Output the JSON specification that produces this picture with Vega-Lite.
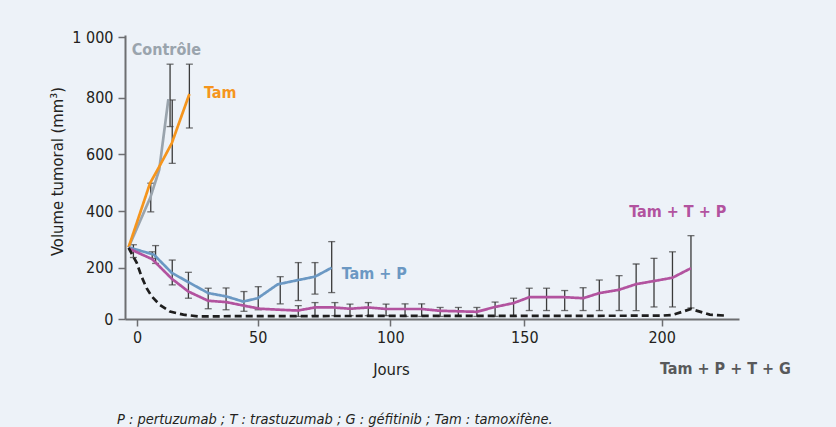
{
  "$schema": "https://vega.github.io/schema/vega-lite/v6.json",
  "width": 614,
  "height": 284,
  "autosize": "none",
  "padding": {"left": 125, "top": 35, "right": 97, "bottom": 108},
  "background": "#edf2f8",
  "config": {
    "view": {"stroke": null},
    "font": "Liberation Sans Narrow, DejaVu Sans Condensed, sans-serif",
    "axis": {
      "grid": false,
      "domainColor": "#6d6e71",
      "domainWidth": 2,
      "tickColor": "#6d6e71",
      "tickWidth": 1.5,
      "tickSize": 7,
      "labelFontSize": 16,
      "labelColor": "#231f20",
      "titleFontSize": 16.5,
      "titleFontWeight": "normal",
      "titleColor": "#231f20",
      "labelFlush": false
    }
  },
  "title": {
    "text": "P : pertuzumab ; T : trastuzumab ; G : géfitinib ; Tam : tamoxifène.",
    "orient": "bottom",
    "anchor": "start",
    "frame": "group",
    "dx": -8,
    "offset": 35,
    "fontSize": 14.5,
    "fontStyle": "italic",
    "fontWeight": "normal",
    "color": "#231f20"
  },
  "datasets": {
    "courbes": [
      {"serie": "Contrôle", "jour": -3.5, "volume": 272},
      {"serie": "Contrôle", "jour": 5.5, "volume": 447},
      {"serie": "Contrôle", "jour": 9.2, "volume": 545},
      {"serie": "Contrôle", "jour": 13, "volume": 795},
      {"serie": "Tam", "jour": -3.5, "volume": 272},
      {"serie": "Tam", "jour": 5.4, "volume": 498},
      {"serie": "Tam", "jour": 9.2, "volume": 556},
      {"serie": "Tam", "jour": 14.4, "volume": 639},
      {"serie": "Tam", "jour": 21.7, "volume": 812},
      {"serie": "Tam + P", "jour": -3.5, "volume": 272},
      {"serie": "Tam + P", "jour": 7, "volume": 246},
      {"serie": "Tam + P", "jour": 14.4, "volume": 180},
      {"serie": "Tam + P", "jour": 22, "volume": 140},
      {"serie": "Tam + P", "jour": 29.5, "volume": 101},
      {"serie": "Tam + P", "jour": 37, "volume": 88},
      {"serie": "Tam + P", "jour": 44, "volume": 68},
      {"serie": "Tam + P", "jour": 50, "volume": 81},
      {"serie": "Tam + P", "jour": 57.5, "volume": 135},
      {"serie": "Tam + P", "jour": 65.3, "volume": 152},
      {"serie": "Tam + P", "jour": 71.6, "volume": 165},
      {"serie": "Tam + P", "jour": 77.9, "volume": 200},
      {"serie": "Tam + T + P", "jour": -3.5, "volume": 268},
      {"serie": "Tam + T + P", "jour": 6.3, "volume": 230},
      {"serie": "Tam + T + P", "jour": 14.4, "volume": 157},
      {"serie": "Tam + T + P", "jour": 21.3, "volume": 107},
      {"serie": "Tam + T + P", "jour": 29.5, "volume": 71},
      {"serie": "Tam + T + P", "jour": 36.9, "volume": 66},
      {"serie": "Tam + T + P", "jour": 44.3, "volume": 52},
      {"serie": "Tam + T + P", "jour": 50.9, "volume": 40},
      {"serie": "Tam + T + P", "jour": 58.5, "volume": 36},
      {"serie": "Tam + T + P", "jour": 65.1, "volume": 33},
      {"serie": "Tam + T + P", "jour": 71.6, "volume": 45},
      {"serie": "Tam + T + P", "jour": 78.5, "volume": 45},
      {"serie": "Tam + T + P", "jour": 84.8, "volume": 40},
      {"serie": "Tam + T + P", "jour": 91.7, "volume": 45},
      {"serie": "Tam + T + P", "jour": 98.6, "volume": 39},
      {"serie": "Tam + T + P", "jour": 105.5, "volume": 39},
      {"serie": "Tam + T + P", "jour": 111.7, "volume": 39},
      {"serie": "Tam + T + P", "jour": 118.6, "volume": 32},
      {"serie": "Tam + T + P", "jour": 125.4, "volume": 30},
      {"serie": "Tam + T + P", "jour": 132.3, "volume": 28},
      {"serie": "Tam + T + P", "jour": 139.1, "volume": 47},
      {"serie": "Tam + T + P", "jour": 146, "volume": 62},
      {"serie": "Tam + T + P", "jour": 151.8, "volume": 85},
      {"serie": "Tam + T + P", "jour": 158.1, "volume": 85},
      {"serie": "Tam + T + P", "jour": 164.7, "volume": 85},
      {"serie": "Tam + T + P", "jour": 171.4, "volume": 81},
      {"serie": "Tam + T + P", "jour": 177.3, "volume": 101},
      {"serie": "Tam + T + P", "jour": 184.5, "volume": 114},
      {"serie": "Tam + T + P", "jour": 190.7, "volume": 136},
      {"serie": "Tam + T + P", "jour": 197.2, "volume": 148},
      {"serie": "Tam + T + P", "jour": 203.9, "volume": 161},
      {"serie": "Tam + T + P", "jour": 210.6, "volume": 198},
      {"serie": "Tam + P + T + G", "jour": -3.5, "volume": 270},
      {"serie": "Tam + P + T + G", "jour": -0.1, "volume": 217},
      {"serie": "Tam + P + T + G", "jour": 1.9, "volume": 165},
      {"serie": "Tam + P + T + G", "jour": 4, "volume": 120},
      {"serie": "Tam + P + T + G", "jour": 6.1, "volume": 88},
      {"serie": "Tam + P + T + G", "jour": 9.5, "volume": 55},
      {"serie": "Tam + P + T + G", "jour": 13.7, "volume": 29},
      {"serie": "Tam + P + T + G", "jour": 19.2, "volume": 17},
      {"serie": "Tam + P + T + G", "jour": 25.4, "volume": 10},
      {"serie": "Tam + P + T + G", "jour": 40, "volume": 11},
      {"serie": "Tam + P + T + G", "jour": 100, "volume": 12},
      {"serie": "Tam + P + T + G", "jour": 150, "volume": 12},
      {"serie": "Tam + P + T + G", "jour": 200, "volume": 13},
      {"serie": "Tam + P + T + G", "jour": 204, "volume": 16},
      {"serie": "Tam + P + T + G", "jour": 210.6, "volume": 39},
      {"serie": "Tam + P + T + G", "jour": 217.4, "volume": 17},
      {"serie": "Tam + P + T + G", "jour": 223.5, "volume": 13}
    ],
    "barres": [
      {"jour": -1.5, "lo": 236, "hi": 281},
      {"jour": 5.7, "lo": 397, "hi": 498},
      {"jour": 13.7, "lo": 698, "hi": 911},
      {"jour": 14.6, "lo": 568, "hi": 792},
      {"jour": 21.7, "lo": 693, "hi": 911},
      {"jour": 6.3, "lo": 233, "hi": 256},
      {"jour": 7.7, "lo": 215, "hi": 278},
      {"jour": 14.6, "lo": 133, "hi": 227},
      {"jour": 21.3, "lo": 81, "hi": 182},
      {"jour": 29.5, "lo": 40, "hi": 120},
      {"jour": 36.9, "lo": 36, "hi": 121},
      {"jour": 44.3, "lo": 30, "hi": 107},
      {"jour": 50.2, "lo": 36, "hi": 126},
      {"jour": 58.5, "lo": 59, "hi": 165},
      {"jour": 65.3, "lo": 72, "hi": 218},
      {"jour": 71.6, "lo": 97, "hi": 218},
      {"jour": 77.9, "lo": 103, "hi": 292},
      {"jour": 65.3, "lo": 10, "hi": 52},
      {"jour": 71.6, "lo": 13, "hi": 64},
      {"jour": 79.1, "lo": 13, "hi": 64},
      {"jour": 84.8, "lo": 13, "hi": 58},
      {"jour": 91.7, "lo": 13, "hi": 64},
      {"jour": 98.4, "lo": 13, "hi": 58},
      {"jour": 105.5, "lo": 10, "hi": 59},
      {"jour": 111.7, "lo": 10, "hi": 59},
      {"jour": 118.6, "lo": 10, "hi": 45},
      {"jour": 125.4, "lo": 10, "hi": 45},
      {"jour": 132.3, "lo": 10, "hi": 45},
      {"jour": 139.1, "lo": 10, "hi": 66},
      {"jour": 146, "lo": 10, "hi": 81},
      {"jour": 151.8, "lo": 33, "hi": 120},
      {"jour": 158.1, "lo": 33, "hi": 120},
      {"jour": 164.7, "lo": 33, "hi": 111},
      {"jour": 171.4, "lo": 33, "hi": 122},
      {"jour": 177.3, "lo": 33, "hi": 152},
      {"jour": 184.5, "lo": 33, "hi": 169},
      {"jour": 190.7, "lo": 33, "hi": 213},
      {"jour": 197.2, "lo": 47, "hi": 233},
      {"jour": 203.9, "lo": 47, "hi": 256},
      {"jour": 210.6, "lo": 43, "hi": 313}
    ],
    "etiquettes": [
      {"serie": "Contrôle", "label": "Contrôle", "jour": -2.2, "volume": 941},
      {"serie": "Tam", "label": "Tam", "jour": 27.8, "volume": 798},
      {"serie": "Tam + P", "label": "Tam + P", "jour": 81.7, "volume": 155},
      {"serie": "Tam + T + P", "label": "Tam + T + P", "jour": 188.2, "volume": 380},
      {"serie": "Tam + P + T + G", "label": "Tam + P + T + G", "jour": 199.4, "volume": -214}
    ]
  },
  "layer": [
    {
      "data": {"name": "barres"},
      "mark": {"type": "errorbar", "color": "#3a3a3a", "ticks": {"size": 7, "thickness": 1.3}, "rule": {"strokeWidth": 1.3}},
      "encoding": {
        "x": {"field": "jour", "type": "quantitative",
              "scale": {"domain": [-5, 0, 50, 100, 150, 200, 228], "range": [0, 12, 132.7, 265.3, 399.3, 536.7, 614], "zero": false, "nice": false},
              "axis": {"values": [0, 50, 100, 150, 200], "title": "Jours", "labelPadding": 3, "titleX": 266, "titleY": 50, "titleBaseline": "middle", "titleAlign": "center"}},
        "y": {"field": "lo", "type": "quantitative",
              "scale": {"domain": [0, 200, 400, 600, 800, 1000, 1007], "range": [284, 232.7, 176, 119.3, 62.7, 2.3, 0], "zero": false, "nice": false},
              "axis": {"values": [0, 200, 400, 600, 800, 1000], "title": "Volume tumoral (mm³)", "labelPadding": 5, "labelExpr": "replace(datum.label, ',', ' ')", "titleX": -68, "titleY": 136, "titleBaseline": "middle", "titleAlign": "center", "titleAngle": -90}},
        "y2": {"field": "hi"}
      }
    },
    {
      "data": {"name": "courbes"},
      "mark": {"type": "line", "strokeWidth": 2.7},
      "encoding": {
        "x": {"field": "jour", "type": "quantitative",
              "scale": {"domain": [-5, 0, 50, 100, 150, 200, 228], "range": [0, 12, 132.7, 265.3, 399.3, 536.7, 614], "zero": false, "nice": false}},
        "y": {"field": "volume", "type": "quantitative",
              "scale": {"domain": [0, 200, 400, 600, 800, 1000, 1007], "range": [284, 232.7, 176, 119.3, 62.7, 2.3, 0], "zero": false, "nice": false}},
        "color": {"field": "serie", "type": "nominal", "legend": null,
                  "scale": {"domain": ["Contrôle", "Tam", "Tam + P", "Tam + T + P", "Tam + P + T + G"], "range": ["#9aa4ad", "#f5951d", "#6b98c3", "#b2539f", "#1e1e1e"]}},
        "strokeDash": {"field": "serie", "type": "nominal", "legend": null,
                  "scale": {"domain": ["Contrôle", "Tam", "Tam + P", "Tam + T + P", "Tam + P + T + G"], "range": [[1, 0], [1, 0], [1, 0], [1, 0], [7, 4]]}}
      }
    },
    {
      "data": {"name": "etiquettes"},
      "transform": [{"filter": "datum.serie !== 'Tam + P + T + G'"}],
      "mark": {"type": "text", "align": "left", "baseline": "alphabetic", "fontSize": 16, "fontWeight": "bold"},
      "encoding": {
        "x": {"field": "jour", "type": "quantitative",
              "scale": {"domain": [-5, 0, 50, 100, 150, 200, 228], "range": [0, 12, 132.7, 265.3, 399.3, 536.7, 614], "zero": false, "nice": false}},
        "y": {"field": "volume", "type": "quantitative",
              "scale": {"domain": [0, 200, 400, 600, 800, 1000, 1007], "range": [284, 232.7, 176, 119.3, 62.7, 2.3, 0], "zero": false, "nice": false}},
        "text": {"field": "label"},
        "color": {"field": "serie", "type": "nominal", "legend": null}
      }
    },
    {
      "data": {"name": "etiquettes"},
      "transform": [{"filter": "datum.serie === 'Tam + P + T + G'"}],
      "mark": {"type": "text", "align": "left", "baseline": "alphabetic", "fontSize": 16, "fontWeight": "bold", "color": "#58595b"},
      "encoding": {
        "x": {"field": "jour", "type": "quantitative",
              "scale": {"domain": [-5, 0, 50, 100, 150, 200, 228], "range": [0, 12, 132.7, 265.3, 399.3, 536.7, 614], "zero": false, "nice": false}},
        "y": {"field": "volume", "type": "quantitative",
              "scale": {"domain": [0, 200, 400, 600, 800, 1000, 1007], "range": [284, 232.7, 176, 119.3, 62.7, 2.3, 0], "zero": false, "nice": false}},
        "text": {"field": "label"}
      }
    }
  ]
}
